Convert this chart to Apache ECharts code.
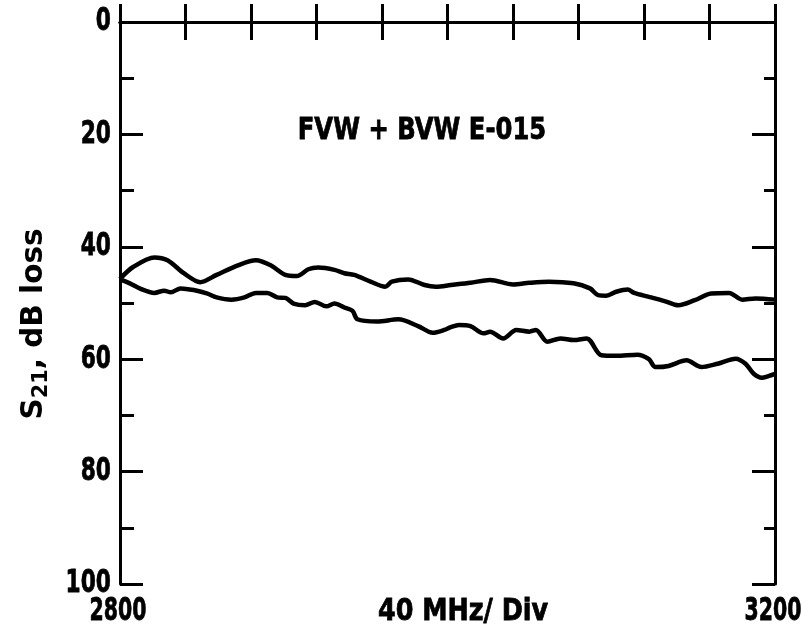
<!DOCTYPE html>
<html><head><meta charset="utf-8">
<script src="https://cdn.jsdelivr.net/npm/echarts@6/dist/echarts.min.js"></script>
<style>html,body{margin:0;padding:0;background:#fff}#c{width:810px;height:637px}</style>
</head><body><div id="c"></div>
<script>
// Frequency (MHz) and loss (dB)
const upperFreq = [2800,2808,2821,2829,2839,2849,2859,2872,2883,2892,2901,2908,2915,2921,2931,2937,2943,2953,2962,2966,2976,2986,2993,3002,3014,3026,3040,3050,3062,3077,3087,3092,3097,3103,3110,3114,3123,3133,3141,3151,3161,3172,3180,3188,3200];
const upperLoss = [45.7,43.6,41.9,42.4,44.7,46.3,45.0,43.3,42.4,43.3,45.0,45.2,44.0,43.7,44.1,44.7,45.0,46.2,47.1,46.2,45.8,46.8,47.1,46.8,46.4,45.9,46.7,46.4,46.2,46.5,47.4,48.6,48.7,48.0,47.6,48.2,48.9,49.7,50.4,49.5,48.3,48.2,49.4,49.2,49.4];
const lowerFreq = [2800,2806,2812,2821,2827,2831,2837,2845,2853,2859,2868,2876,2883,2890,2896,2901,2906,2913,2919,2926,2931,2937,2942,2945,2957,2970,2982,2991,2998,3002,3007,3014,3022,3026,3034,3042,3050,3054,3061,3069,3077,3085,3094,3103,3116,3123,3127,3135,3146,3155,3165,3176,3182,3187,3192,3196,3200];
const lowerLoss = [45.8,46.5,47.4,48.2,47.8,48.1,47.4,47.7,48.3,49.0,49.4,49.0,48.2,48.2,49.0,49.1,50.1,50.4,49.8,50.6,50.1,50.8,51.4,52.9,53.3,52.9,54.1,55.3,54.8,54.3,53.9,54.1,55.4,55.1,56.3,54.8,55.1,54.8,56.9,56.3,56.6,56.3,59.3,59.4,59.2,60.0,61.4,61.2,60.2,61.4,60.8,59.9,60.8,62.6,63.3,63.0,62.6];
const yTicks = [0,20,40,60,80,100];
const xEndLabels = [2800,3200];
const titleText = 'FVW + BVW E-015';
const xAxisTitle = '40 MHz/ Div';

const FONT = '"DejaVu Sans","Liberation Sans",sans-serif';
const pairs = (xs, ys) => xs.map((x, i) => [x, ys[i]]);
const axisLine = {show: true, lineStyle: {color: '#000', width: 3}};
const tickStyle = {color: '#000', width: 3};

const chart = echarts.init(document.getElementById('c'), null, {renderer: 'canvas'});
chart.setOption({
  animation: false,
  backgroundColor: '#fff',
  grid: {left: 120, right: 35, top: 22, bottom: 53, containLabel: false, outerBoundsMode: 'none'},
  xAxis: [
    {type: 'value', position: 'bottom', min: 2800, max: 3200, interval: 40,
     axisLine: axisLine, splitLine: {show: false},
     axisTick: {inside: true, length: 18, lineStyle: tickStyle}, axisLabel: {show: false}},
    {type: 'value', position: 'top', min: 2800, max: 3200, interval: 40,
     axisLine: axisLine, splitLine: {show: false},
     axisTick: {inside: true, length: 18, lineStyle: tickStyle}, axisLabel: {show: false}}
  ],
  yAxis: [
    {type: 'value', position: 'left', min: 0, max: 100, interval: 20, inverse: true,
     axisLine: axisLine, splitLine: {show: false},
     axisTick: {inside: true, length: 23, lineStyle: tickStyle},
     minorTick: {show: true, splitNumber: 2, length: 14, lineStyle: tickStyle},
     axisLabel: {show: false}},
    {type: 'value', position: 'right', min: 0, max: 100, interval: 20, inverse: true,
     axisLine: axisLine, splitLine: {show: false},
     axisTick: {inside: true, length: 23, lineStyle: tickStyle},
     minorTick: {show: true, splitNumber: 2, length: 11, lineStyle: tickStyle},
     axisLabel: {show: false}}
  ],
  series: [
    {type: 'line', data: pairs(upperFreq, upperLoss), showSymbol: false, smooth: 0.3,
     lineStyle: {color: '#000', width: 4.5}},
    {type: 'line', data: pairs(lowerFreq, lowerLoss), showSymbol: false, smooth: 0.3,
     lineStyle: {color: '#000', width: 4.5}}
  ]
});

// Condensed bold labels, placed through the axis scales
const heavy = {fill: '#000', stroke: '#000', lineWidth: 0.8};
const g = [];
yTicks.forEach(v => {
  const py = chart.convertToPixel({yAxisIndex: 0}, v);
  const px = chart.convertToPixel({xAxisIndex: 0}, 2800);
  g.push({type: 'text', x: px - 9, y: py, scaleX: 0.68,
    style: Object.assign({text: String(v), x: 0, y: 0, align: 'right', verticalAlign: 'middle', font: 'bold 32px ' + FONT}, heavy)});
});
const yBottom = chart.convertToPixel({yAxisIndex: 0}, 100);
xEndLabels.forEach(v => {
  const px = chart.convertToPixel({xAxisIndex: 0}, v);
  g.push({type: 'text', x: px - 2, y: yBottom + 28, scaleX: 0.64,
    style: Object.assign({text: String(v), x: 0, y: 0, align: 'center', verticalAlign: 'middle', font: 'bold 32px ' + FONT}, heavy)});
});
g.push({type: 'text', x: 463, y: yBottom + 28, scaleX: 0.82,
  style: Object.assign({text: xAxisTitle, x: 0, y: 0, align: 'center', verticalAlign: 'middle', font: 'bold 31px ' + FONT}, heavy)});
g.push({type: 'text', x: 422, y: 131, scaleX: 0.81,
  style: Object.assign({text: titleText, x: 0, y: 0, align: 'center', verticalAlign: 'middle', font: 'bold 30px ' + FONT}, heavy)});
g.push({type: 'text', x: 34, y: 324, rotation: Math.PI / 2, scaleX: 0.95,
  style: {text: '{s|S}{sub|21}{s|, dB loss}', x: 0, y: 0, align: 'center', verticalAlign: 'middle',
    rich: {
      s: {font: 'bold 31px ' + FONT, fill: '#000'},
      sub: {font: 'bold 22px ' + FONT, fill: '#000', padding: [14, 0, 0, 0]}
    }}});
chart.setOption({graphic: g});
</script></body></html>
